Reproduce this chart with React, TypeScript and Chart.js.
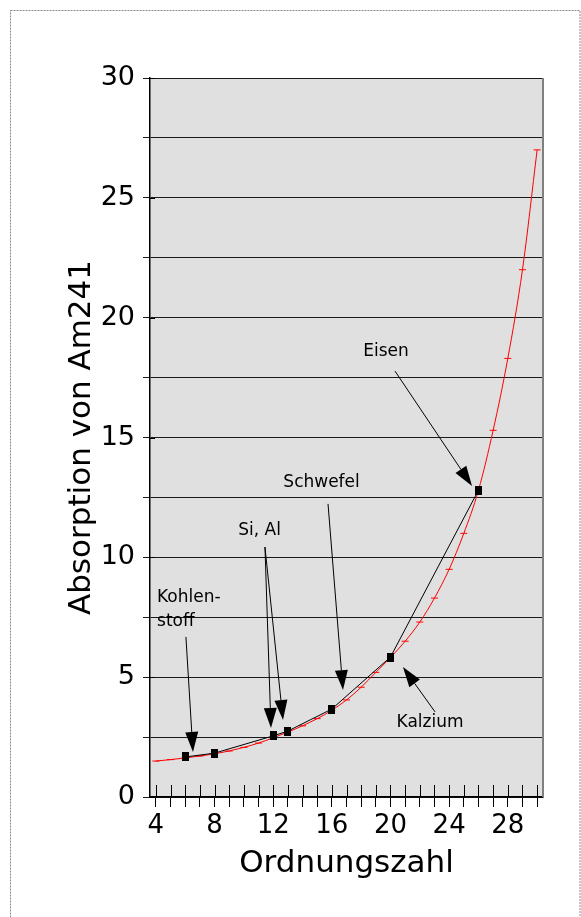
import React, { useEffect, useRef } from "react";
import { Chart, registerables } from "chart.js";
Chart.register(...registerables);

// ---- data ----
const curveZ = [4, 5, 6, 7, 8, 9, 10, 11, 12, 13, 14, 15, 16, 17, 18, 19, 20, 21, 22, 23, 24, 25, 26, 27, 28, 29, 30];
const curveAbs = [1.5, 1.56, 1.63, 1.71, 1.8, 1.92, 2.07, 2.25, 2.47, 2.71, 2.97, 3.27, 3.62, 4.05, 4.58, 5.2, 5.82, 6.5, 7.3, 8.3, 9.5, 11.0, 12.8, 15.3, 18.3, 22.0, 27.0];
const elementZ = [6, 8, 12, 13, 16, 20, 26];
const elementAbs = [1.67, 1.83, 2.55, 2.75, 3.67, 5.84, 12.8];
const xTickLabels = [4, 8, 12, 16, 20, 24, 28];
const yTickLabels = [0, 5, 10, 15, 20, 25, 30];
const noteTexts = ["Eisen", "Schwefel", "Si, Al", "Kohlen-\nstoff", "Kalzium"];
const xTitle = "Ordnungszahl";
const yTitle = "Absorption von Am241";

// annotation placement (data units)
const notePlacement = [
  { at: [19.69, 18.57], align: "center", arrows: [[[20.31, 17.77], [25.56, 12.98]]] },
  { at: [15.3, 13.1], align: "center", arrows: [[[15.74, 12.23], [16.76, 4.46]]] },
  { at: [11.07, 11.1], align: "center", arrows: [[[11.44, 10.43], [11.85, 2.88]], [[11.44, 10.43], [12.67, 3.21]]] },
  { at: [4.08, 8.34], align: "left", arrows: [[[6.05, 6.68], [6.53, 1.88]]] },
  { at: [22.7, 3.09], align: "center", arrows: [[[23.04, 3.55], [20.85, 5.42]]] },
];

const FONT = "'DejaVu Sans', Verdana, sans-serif";

const decorPlugin = {
  id: "decor",
  beforeDraw(chart: any) {
    const { ctx, chartArea } = chart;
    ctx.save();
    ctx.fillStyle = "#ffffff";
    ctx.fillRect(0, 0, chart.width, chart.height);
    ctx.setLineDash([2, 1]);
    ctx.strokeStyle = "#8a8a8a";
    ctx.lineWidth = 1;
    ctx.strokeRect(10.5, 10.5, chart.width - 11.5, chart.height + 20);
    ctx.setLineDash([]);
    ctx.fillStyle = "#e0e0e0";
    ctx.fillRect(chartArea.left, chartArea.top, chartArea.right - chartArea.left, chartArea.bottom - chartArea.top);
    ctx.restore();
  },
  beforeDatasetsDraw(chart: any) {
    const { ctx, chartArea, scales } = chart;
    ctx.save();
    ctx.strokeStyle = "#808080";
    ctx.lineWidth = 2;
    ctx.beginPath();
    ctx.moveTo(chartArea.right, chartArea.top);
    ctx.lineTo(chartArea.right, chartArea.bottom);
    ctx.stroke();
    ctx.strokeStyle = "#000";
    ctx.lineWidth = 1;
    ctx.beginPath();
    for (const t of scales.x.ticks) {
      const px = Math.round(scales.x.getPixelForValue(t.value)) + 0.5;
      ctx.moveTo(px, chartArea.bottom);
      ctx.lineTo(px, chartArea.bottom - 12);
    }
    for (const v of yTickLabels) {
      const py = Math.round(scales.y.getPixelForValue(v)) + 0.5;
      ctx.moveTo(chartArea.left, py);
      ctx.lineTo(chartArea.left + 5, py);
    }
    ctx.stroke();
    ctx.restore();
  },
  afterDatasetsDraw(chart: any) {
    const { ctx, scales } = chart;
    const X = (v: number) => scales.x.getPixelForValue(v);
    const Y = (v: number) => scales.y.getPixelForValue(v);
    ctx.save();
    ctx.fillStyle = "#000";
    ctx.strokeStyle = "#000";
    ctx.lineWidth = 1;
    ctx.font = `17px ${FONT}`;
    ctx.textBaseline = "middle";
    noteTexts.forEach((txt, i) => {
      const p = notePlacement[i];
      const lines = txt.split("\n");
      ctx.textAlign = p.align;
      lines.forEach((ln, j) => {
        ctx.fillText(ln, X(p.at[0]), Y(p.at[1]) + j * 24);
      });
      for (const [s, t] of p.arrows) {
        const sx = X(s[0]), sy = Y(s[1]), tx = X(t[0]), ty = Y(t[1]);
        const dx = tx - sx, dy = ty - sy;
        const len = Math.hypot(dx, dy);
        const ux = dx / len, uy = dy / len;
        const L = 20, W = 6.5;
        const bx = tx - ux * L, by = ty - uy * L;
        ctx.beginPath();
        ctx.moveTo(sx, sy);
        ctx.lineTo(bx, by);
        ctx.stroke();
        ctx.beginPath();
        ctx.moveTo(tx, ty);
        ctx.lineTo(bx - uy * W, by + ux * W);
        ctx.lineTo(bx + uy * W, by - ux * W);
        ctx.closePath();
        ctx.fill();
      }
    });
    ctx.restore();
  },
};

export default function App() {
  const ref = useRef<HTMLCanvasElement | null>(null);
  useEffect(() => {
    if (!ref.current) return;
    const sq = document.createElement("canvas");
    sq.width = 7;
    sq.height = 9;
    const sctx = sq.getContext("2d")!;
    sctx.fillStyle = "#000";
    sctx.fillRect(0, 0, 7, 9);

    const chart = new Chart(ref.current, {
      type: "scatter",
      data: {
        datasets: [
          {
            label: "Elemente",
            data: elementZ.map((z, i) => ({ x: z, y: elementAbs[i] })),
            showLine: true,
            borderColor: "#000",
            borderWidth: 1,
            pointStyle: sq as any,
            pointRadius: 4,
            tension: 0,
          },
          {
            label: "Kurve",
            data: curveZ.map((z, i) => ({ x: z, y: curveAbs[i] })),
            showLine: true,
            borderColor: "#ff0000",
            borderWidth: 1,
            pointStyle: "line",
            pointRadius: 3.5,
            pointBorderColor: "#ff0000",
            pointBorderWidth: 1,
            cubicInterpolationMode: "monotone",
          },
        ],
      },
      options: {
        responsive: false,
        animation: false,
        devicePixelRatio: 1,
        layout: { padding: { left: 55, right: 38, top: 78, bottom: 20 } },
        plugins: { legend: { display: false }, tooltip: { enabled: false } },
        scales: {
          x: {
            type: "linear",
            min: 3.6,
            max: 30.4,
            afterFit: (s: any) => { s.height = 100; },
            ticks: {
              stepSize: 1,
              includeBounds: false,
              autoSkip: false,
              maxRotation: 0,
              padding: 4,
              color: "#000",
              font: { family: FONT, size: 26 },
              callback: (v: any) => (xTickLabels.includes(Number(v)) ? String(v) : ""),
            },
            grid: { drawOnChartArea: false, drawTicks: true, tickLength: 10, color: "#000" },
            border: { color: "#000", width: 1.5 },
            title: {
              display: true,
              text: xTitle,
              color: "#000",
              font: { family: FONT, size: 31, weight: "normal" },
              padding: { top: 0, bottom: 14 },
            },
          },
          y: {
            type: "linear",
            min: 0,
            max: 30,
            afterFit: (s: any) => { s.width = 95; },
            ticks: {
              stepSize: 2.5,
              autoSkip: false,
              padding: 8,
              color: "#000",
              font: { family: FONT, size: 27 },
              callback: (v: any) => (yTickLabels.includes(Number(v)) ? String(v) : ""),
            },
            grid: { drawOnChartArea: true, drawTicks: true, tickLength: 7, color: "#1a1a1a", lineWidth: 1 },
            border: { color: "#000", width: 1.5 },
            title: {
              display: true,
              text: yTitle,
              color: "#000",
              font: { family: FONT, size: 31, weight: "normal" },
              padding: { top: 8, bottom: 0 },
            },
          },
        },
      },
      plugins: [decorPlugin],
    } as any);
    return () => chart.destroy();
  }, []);
  return (
    <div style={{ position: "fixed", left: 0, top: 0, width: 581, height: 917 }}>
      <canvas ref={ref} width={581} height={917} style={{ width: 581, height: 917, display: "block" }} />
    </div>
  );
}
